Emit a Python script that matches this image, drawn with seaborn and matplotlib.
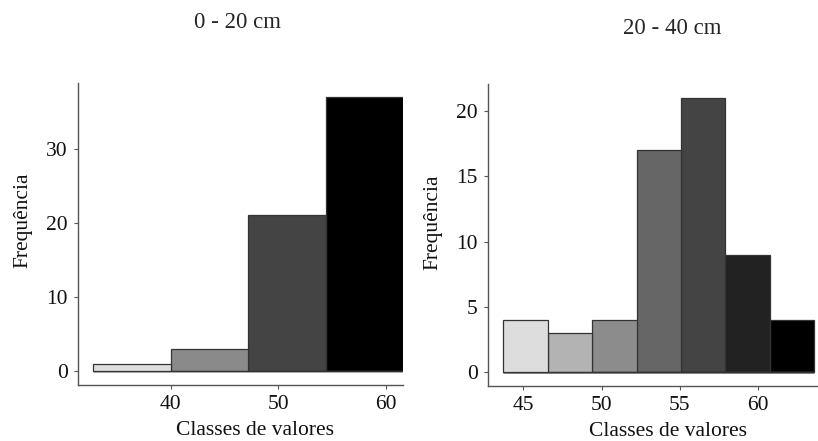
import numpy as np
import pandas as pd
import matplotlib
matplotlib.use("Agg")
import matplotlib.pyplot as plt
import seaborn as sns

# ---- data ----
titles = ["0 - 20 cm", "20 - 40 cm"]
edges_0_20 = [32.8, 40.0, 47.2, 54.4, 61.6]
counts_0_20 = [1, 3, 21, 37]
colors_0_20 = ["#DDDDDD", "#8A8A8A", "#444444", "#000000"]

edges_20_40 = [43.72, 46.56, 49.40, 52.24, 55.08, 57.92, 60.76, 63.60]
counts_20_40 = [4, 3, 4, 17, 21, 9, 4]
colors_20_40 = ["#DDDDDD", "#B3B3B3", "#8C8C8C", "#666666", "#444444", "#222222", "#000000"]

xticks_0_20 = [40, 50, 60]
yticks_0_20 = [0, 10, 20, 30]
xticks_20_40 = [45, 50, 55, 60]
yticks_20_40 = [0, 5, 10, 15, 20]

xlabel = "Classes de valores"
ylabel = "Frequência"

sns.set_style("ticks")
plt.rcParams["font.family"] = ["Liberation Serif", "DejaVu Serif"]
plt.rcParams["font.size"] = 15.5

fig = plt.figure(figsize=(8.18, 4.41), dpi=100)
W, H = 818, 441

def px_axes(x0, y0, x1, y1):
    return fig.add_axes([x0 / W, 1 - y1 / H, (x1 - x0) / W, (y1 - y0) / H])

ax1 = px_axes(78, 83, 403, 385)
ax2 = px_axes(488, 84, 818, 386)

def draw(ax, edges, counts, colors, xt, yt, xlim, ylim, xlab_x, ylab_y):
    e = np.asarray(edges, dtype=float)
    centers = (e[:-1] + e[1:]) / 2
    df = pd.DataFrame({"x": centers, "w": np.asarray(counts, dtype=float),
                       "cls": [f"c{i}" for i in range(len(counts))]})
    sns.histplot(data=df, x="x", weights="w", bins=list(edges), hue="cls",
                 palette=colors, multiple="layer", alpha=1,
                 edgecolor="#333333", linewidth=0.9, legend=False, ax=ax)
    ax.set_xlim(*xlim)
    ax.set_ylim(*ylim)
    ax.set_xticks(xt)
    ax.set_yticks(yt)
    for s in ["top", "right"]:
        ax.spines[s].set_visible(False)
    for s in ["left", "bottom"]:
        ax.spines[s].set_color("#555555")
        ax.spines[s].set_linewidth(1.0)
    ax.tick_params(direction="out", length=3, width=0.8, color="#555555",
                   labelsize=15.5, labelcolor="#111111", pad=4.5)
    ax.set_xlabel(xlabel, fontsize=15.5, labelpad=4.5, color="#111111")
    ax.set_ylabel(ylabel, fontsize=15.5, labelpad=9.5, color="#111111")
    ax.xaxis.label.set_x(xlab_x)
    ax.yaxis.label.set_y(ylab_y)

draw(ax1, edges_0_20, counts_0_20, colors_0_20, xticks_0_20, yticks_0_20,
     (31.4, 61.6), (-1.85, 38.85), 0.5446, 0.546)
draw(ax2, edges_20_40, counts_20_40, colors_20_40, xticks_20_40, yticks_20_40,
     (42.73, 63.86), (-1.05, 22.05), 0.544, 0.541)

fig.text(238 / W, 1 - 22 / H, titles[0], ha="center", va="center", fontsize=16.5)
fig.text(672 / W, 1 - 28 / H, titles[1], ha="center", va="center", fontsize=16.5)

fig.savefig("out.png", dpi=100)
